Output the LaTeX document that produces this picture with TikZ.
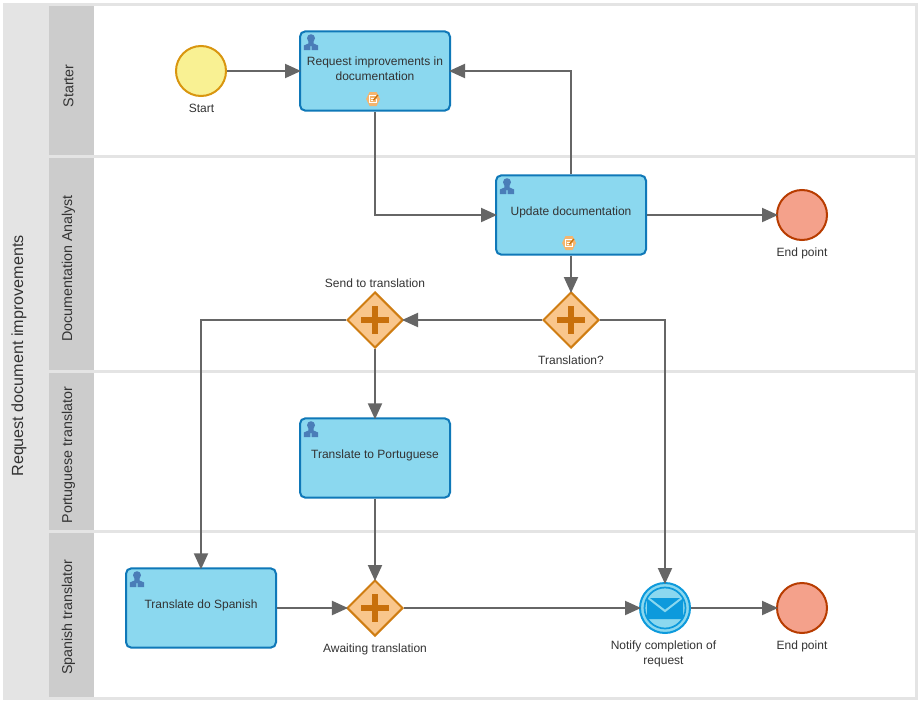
\documentclass[tikz,border=0pt]{standalone}
\usepackage{fontspec}
\setmainfont{Liberation Sans}
\usetikzlibrary{arrows.meta,shapes.geometric,positioning}
\definecolor{laneedge}{HTML}{E4E4E4}
\definecolor{lanehead}{HTML}{CCCCCC}
\definecolor{txt}{HTML}{333333}
\definecolor{conn}{HTML}{666666}
\definecolor{taskfill}{HTML}{8BD8EF}
\definecolor{taskline}{HTML}{0F78B8}
\definecolor{startfill}{HTML}{F9F193}
\definecolor{startline}{HTML}{D9960F}
\definecolor{endfill}{HTML}{F4A18B}
\definecolor{endline}{HTML}{B83C00}
\definecolor{gatefill}{HTML}{F9C68C}
\definecolor{gateline}{HTML}{CF7D12}
\definecolor{plusc}{HTML}{C8700C}
\definecolor{msgline}{HTML}{0D9ADC}
\definecolor{userc}{HTML}{4A7DB8}
\definecolor{editc}{HTML}{F4B56E}
\tikzset{
  x=0.75pt,y=-0.75pt,
  lane/.style={fill=white,draw=none},
  lanehd/.style={fill=lanehead,draw=none},
  lanetxt/.style={rotate=90,font=\fontsize{10.7pt}{12pt}\selectfont,text=txt,inner sep=0pt},
  titletxt/.style={rotate=90,font=\fontsize{12.1pt}{14pt}\selectfont,text=txt,inner sep=0pt},
  task/.style={draw=taskline,fill=taskfill,line width=1.5pt,rounded corners=4pt,minimum width=112.5pt,minimum height=59.5pt,inner sep=0pt},
  tasktxt/.style={font=\fontsize{9pt}{11.25pt}\selectfont,text=txt,align=center,inner sep=0pt},
  lbl/.style={font=\fontsize{9pt}{11.25pt}\selectfont,text=txt,align=center,inner sep=0pt},
  startev/.style={circle,draw=startline,fill=startfill,line width=1.5pt,minimum size=37.5pt,inner sep=0pt},
  endev/.style={circle,draw=endline,fill=endfill,line width=1.5pt,minimum size=37.5pt,inner sep=0pt},
  msgev/.style={circle,draw=msgline,fill=taskfill,line width=1.5pt,minimum size=37.5pt,inner sep=0pt},
  gate/.style={diamond,draw=gateline,fill=gatefill,line width=1.5pt,minimum width=42pt,minimum height=42pt,inner sep=0pt},
  flow/.style={draw=conn,line width=1.5pt,shorten >=-1.5pt,-{Triangle[length=12pt,width=10.5pt]}},
  usericon/.pic={
    \fill[userc] (0,-3.8) circle[radius=4];
    \fill[userc] (-2.6,-1) -- (2.6,-1) -- (2.6,1.5) -- (7.2,3.5) -- (7.2,8) -- (0.6,8) -- (0.6,4) -- (-0.6,4) -- (-0.6,8) -- (-7.2,8) -- (-7.2,3.5) -- (-2.6,1.5) -- cycle;
  },
  editicon/.pic={
    \fill[editc] (-3.5,-7) -- (3.5,-7) -- (7,0) -- (3.5,7) -- (-3.5,7) -- (-7,0) -- cycle;
    \draw[white,line width=0.75pt] (3,-3.5) -- (-4,-3.5) -- (-4,3.5) -- (3,3.5) -- (3,0);
    \draw[white,line width=0.6pt] (-2.2,-1) -- (1,-1) (-2.2,1.2) -- (0,1.2);
    \draw[plusc,line width=0.9pt] (0.5,1) -- (5,-4);
  },
  plusicon/.pic={
    \fill[plusc] (-14,-3) rectangle (14,3);
    \fill[plusc] (-3,-14) rectangle (3,14);
  },
  envicon/.pic={
    \fill[msgline] (-18,-9.5) -- (0,4.5) -- (18,-9.5) -- (18,11) -- (-18,11) -- cycle;
    \fill[msgline] (-15,-10) -- (15,-10) -- (0,1.5) -- cycle;
  }
}
\begin{document}
\begin{tikzpicture}
\useasboundingbox (0,0) rectangle (922,703);
\fill[white] (0,0) rectangle (922,703);
% pool
\fill[laneedge] (3,3) rectangle (918,700);
% lanes
\fill[lane] (94,6) rectangle (915,155);
\fill[lane] (94,158) rectangle (915,370);
\fill[lane] (94,373) rectangle (915,530);
\fill[lane] (94,533) rectangle (915,697);
\fill[lanehd] (49,6) rectangle (94,155);
\fill[lanehd] (49,158) rectangle (94,370);
\fill[lanehd] (49,373) rectangle (94,530);
\fill[lanehd] (49,533) rectangle (94,697);
\node[titletxt] (pooltitle) at (19,356) {Request document improvements};
\node[lanetxt] (l1) at (68.5,86) {Starter};
\node[lanetxt] (l2) at (68.5,268.5) {Documentation Analyst};
\node[lanetxt] (l3) at (68.5,455) {Portuguese translator};
\node[lanetxt] (l4) at (68.5,617.5) {Spanish translator};
% nodes
\node[startev] (start) at (201,71) {};
\node[lbl] (startl) at (201.5,108) {Start};
\node[task] (t1) at (375,71) {};
\node[tasktxt] (t1l) at (375,68.5) {Request improvements in\\documentation};
\node[task] (t2) at (571,215) {};
\node[tasktxt] (t2l) at (571,212) {Update documentation};
\node[endev] (e1) at (802,215) {};
\node[lbl] (e1l) at (802,253) {End point};
\node[gate] (g1) at (571,320) {};
\node[lbl] (g1l) at (571,360) {Translation?};
\node[gate] (g2) at (375,320) {};
\node[lbl] (g2l) at (375,283) {Send to translation};
\node[task] (t3) at (375,458) {};
\node[tasktxt] (t3l) at (375,455) {Translate to Portuguese};
\node[task] (t4) at (201,608) {};
\node[tasktxt] (t4l) at (201,605) {Translate do Spanish};
\node[gate] (g3) at (375,608) {};
\node[lbl] (g3l) at (375,649) {Awaiting translation};
\node[msgev] (m) at (665,608) {};
\node[lbl] (ml) at (663.5,653.5) {Notify completion of\\request};
\node[endev] (e2) at (802,608) {};
\node[lbl] (e2l) at (802,646) {End point};
% icons
\pic at (311,42) {usericon};
\pic at (507,186) {usericon};
\pic at (311,429) {usericon};
\pic at (137,579) {usericon};
\pic at (373,99) {editicon};
\pic at (569,243) {editicon};
\pic at (571,320) {plusicon};
\pic at (375,320) {plusicon};
\pic at (375,608) {plusicon};
\draw[msgline,line width=1.3pt] (665,608) circle[radius=20.5];
\pic at (665,608) {envicon};
% connectors
\draw[flow] (start) -- (t1);
\draw[flow] (t1.south) |- (t2.west);
\draw[flow] (t2.north) |- (t1.east);
\draw[flow] (t2) -- (e1);
\draw[flow] (t2.south) -- (g1.north);
\draw[flow] (g1) -- (g2);
\draw[flow] (g1.east) -| (m.north);
\draw[flow] (g2.west) -| (t4.north);
\draw[flow] (g2) -- (t3);
\draw[flow] (t3) -- (g3);
\draw[flow] (t4) -- (g3);
\draw[flow] (g3) -- (m);
\draw[flow] (m) -- (e2);
\end{tikzpicture}
\end{document}
